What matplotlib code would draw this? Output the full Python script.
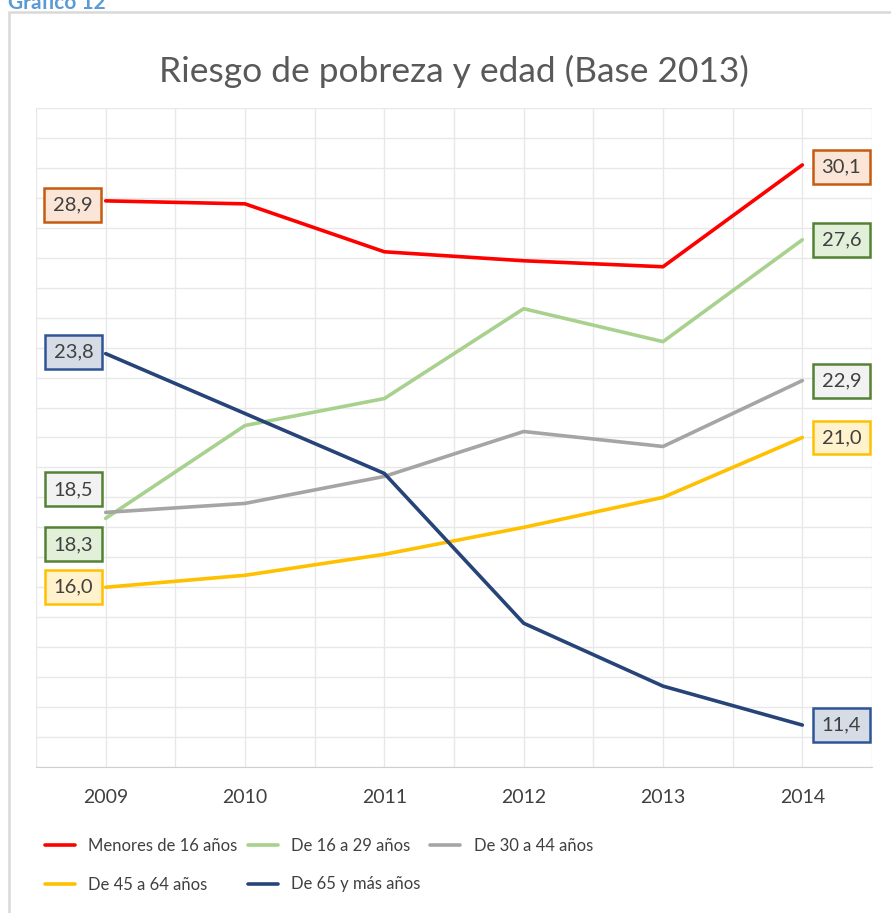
import matplotlib
matplotlib.use("Agg")
import matplotlib.pyplot as plt
from matplotlib.patches import Rectangle

years = [2009, 2010, 2011, 2012, 2013, 2014]

series_names = ["Menores de 16 años", "De 16 a 29 años", "De 30 a 44 años",
                "De 45 a 64 años", "De 65 y más años"]
menores_16 = [28.9, 28.8, 27.2, 26.9, 26.7, 30.1]
de_16_29 = [18.3, 21.4, 22.3, 25.3, 24.2, 27.6]
de_30_44 = [18.5, 18.8, 19.7, 21.2, 20.7, 22.9]
de_45_64 = [16.0, 16.4, 17.1, 18.0, 19.0, 21.0]
de_65_mas = [23.8, 21.8, 19.8, 14.8, 12.7, 11.4]

line_colors = ["#FF0000", "#A9D18E", "#A5A5A5", "#FFC000", "#264478"]
box_faces = ["#FBE5D6", "#E2F0D9", "#F2F2F2", "#FFF2CC", "#D6DCE5"]
box_edges = ["#C55A11", "#548235", "#548235", "#FFC000", "#2F5597"]
# label offsets in pixels, y down (first point, last point)
left_offsets = [(-33, 4), (-32, 26), (-32, -23), (-32, 0), (-32, -2)]
right_offsets = [(39, 2), (39, 0), (39, 0), (39, 0), (39, 0)]

font = ["Lato", "DejaVu Sans"]
plt.rcParams["font.family"] = font

fig = plt.figure(figsize=(8.91, 9.13), dpi=100)

# chart frame
fig.patches.append(Rectangle((9 / 891, -0.01), 1.0, 1 - 12 / 913 + 0.01,
                             transform=fig.transFigure, fill=False,
                             edgecolor="#D9D9D9", linewidth=1.8))
fig.text(8 / 891, 1 - 3 / 913, "Gráfico 12", color="#5B9BD5", fontsize=15,
         fontweight="bold", va="center", ha="left")

ax = fig.add_axes([36 / 891, 1 - 767 / 913, 836 / 891, (767 - 108) / 913])
ax.set_xlim(2008.5, 2014.5)
ax.set_ylim(10, 32)
ax.set_yticks(range(10, 33))
ax.set_xticks([y - 0.5 for y in years] + [2014.5], minor=True)
ax.set_xticks(years)
ax.grid(True, which="both", axis="x", color="#E8E8E8", linewidth=1)
ax.grid(True, which="major", axis="y", color="#E8E8E8", linewidth=1)
ax.tick_params(axis="y", left=False, labelleft=False)
ax.tick_params(axis="x", which="both", length=0, pad=16, labelsize=14, labelcolor="#404040")
for s in ["top", "right", "left"]:
    ax.spines[s].set_visible(False)
ax.spines["bottom"].set_color("#D0D0D0")
ax.set_axisbelow(True)

all_series = [menores_16, de_16_29, de_30_44, de_45_64, de_65_mas]
handles = []
for i, vals in enumerate(all_series):
    h, = ax.plot(years, vals, color=line_colors[i], linewidth=2.6,
                 label=series_names[i], solid_capstyle="round")
    handles.append(h)
    for idx, off in ((0, left_offsets[i]), (-1, right_offsets[i])):
        ax.annotate(f"{vals[idx]:.1f}".replace(".", ","), (years[idx], vals[idx]),
                    xytext=(off[0], -off[1]), textcoords="offset pixels",
                    ha="center", va="center", fontsize=14.5, color="#404040",
                    bbox=dict(boxstyle="square,pad=0.42", fc=box_faces[i],
                              ec=box_edges[i], lw=1.8),
                    annotation_clip=False)

fig.text(454 / 891, 1 - 71 / 913, "Riesgo de pobreza y edad (Base 2013)",
         ha="center", va="center", fontsize=25.5, color="#595959")

# legend filled row by row like the original
order = [0, 3, 1, 4, 2]
fig.legend([handles[k] for k in order], [series_names[k] for k in order],
           loc="upper left", bbox_to_anchor=(30 / 891, 1 - 823 / 913), ncol=3,
           frameon=False, fontsize=12, handlelength=1.8, handletextpad=0.8,
           columnspacing=0.6, labelspacing=1.35, labelcolor="#404040")

fig.savefig("out.png", dpi=100)
